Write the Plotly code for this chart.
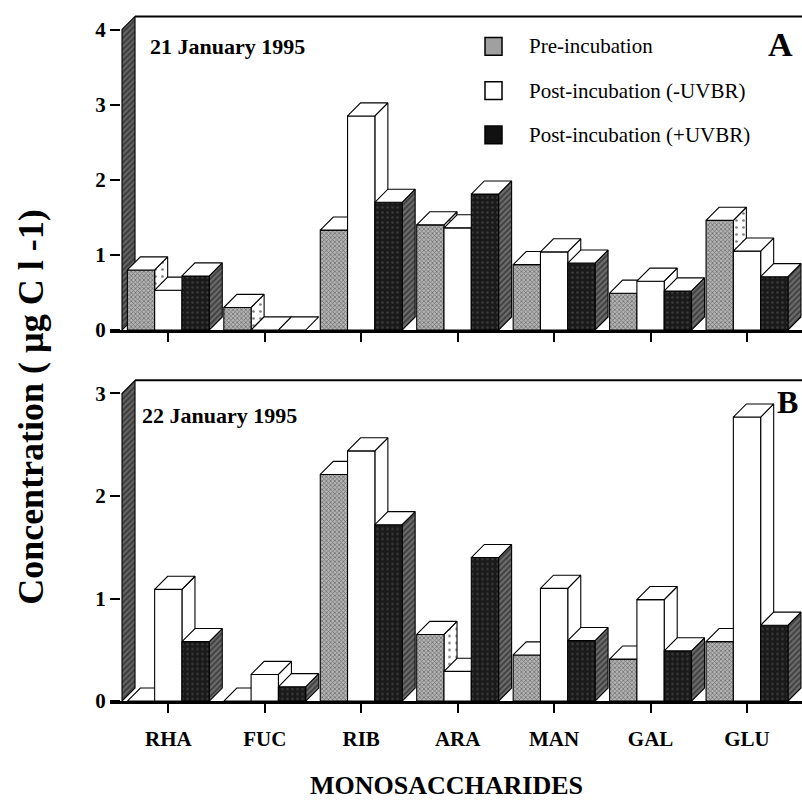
import plotly.graph_objects as go

# ---------------- data ----------------
categories = ["RHA", "FUC", "RIB", "ARA", "MAN", "GAL", "GLU"]
series_names = ["Pre-incubation", "Post-incubation (-UVBR)", "Post-incubation (+UVBR)"]

jan21_pre = [0.80, 0.30, 1.33, 1.40, 0.87, 0.49, 1.46]
jan21_post_minus = [0.53, 0.0, 2.85, 1.36, 1.04, 0.65, 1.05]
jan21_post_plus = [0.72, 0.0, 1.70, 1.81, 0.89, 0.52, 0.71]

jan22_pre = [0.0, 0.0, 2.21, 0.65, 0.45, 0.41, 0.58]
jan22_post_minus = [1.09, 0.26, 2.44, 0.29, 1.10, 0.99, 2.77]
jan22_post_plus = [0.58, 0.14, 1.72, 1.40, 0.59, 0.49, 0.74]

yticks_A = [0, 1, 2, 3, 4]
yticks_B = [0, 1, 2, 3]
panel_titles = ["21 January 1995", "22 January 1995"]
panel_letters = ["A", "B"]

# ---------------- geometry (pixels of the 802x808 page) ----------------
W, H = 802, 808
CAT_PX0, CAT_STEP = 168.3, 96.45
X_LEFT_PX = 110
BAR_W = 0.283
DEPTH_X = 0.135
DEPTH_PX_Y = 13.3

panels = [
    dict(base=335.0, unit=76.25, top_px=0.0, ymax=yticks_A[-1],
         data=[jan21_pre, jan21_post_minus, jan21_post_plus], ticks=yticks_A),
    dict(base=711.7, unit=104.1, top_px=372.0, ymax=yticks_B[-1],
         data=[jan22_pre, jan22_post_minus, jan22_post_plus], ticks=yticks_B),
]

x_lo = (X_LEFT_PX - CAT_PX0) / CAT_STEP
x_hi = (W - CAT_PX0) / CAT_STEP
WALL_X = (122 - CAT_PX0) / CAT_STEP

FONT = "Liberation Serif, Times New Roman, serif"

# face styles per series: (front, side)
pat_pre_front = dict(shape="x", size=3, solidity=0.45, fgcolor="#2a2a2a", bgcolor="#b4b4b4")
pat_pre_side = dict(shape=".", size=7, solidity=0.12, fgcolor="#000000", bgcolor="#ffffff")
pat_plus_front = dict(shape=".", size=5, solidity=0.2, fgcolor="#5a5a5a", bgcolor="#1a1a1a")
pat_dark_side = dict(shape="/", size=4, solidity=0.5, fgcolor="#111111", bgcolor="#6e6e6e")

styles = [
    (dict(fillpattern=pat_pre_front), dict(fillpattern=pat_pre_side)),
    (dict(fillcolor="#ffffff"), dict(fillcolor="#ffffff")),
    (dict(fillpattern=pat_plus_front), dict(fillpattern=pat_dark_side)),
]

fig = go.Figure()


def poly(xs, ys, xa, ya, **style):
    fig.add_trace(go.Scatter(
        x=list(xs) + [xs[0]], y=list(ys) + [ys[0]], xaxis=xa, yaxis=ya,
        mode="lines", fill="toself", line=dict(color="black", width=1.1),
        hoverinfo="skip", showlegend=False, **style))


for p, pan in enumerate(panels):
    xa = "x" if p == 0 else "x2"
    ya = "y" if p == 0 else "y2"
    dy = DEPTH_PX_Y / pan["unit"]
    top = pan["ymax"]
    # left 3-D wall
    poly([WALL_X, WALL_X + DEPTH_X, WALL_X + DEPTH_X, WALL_X],
         [0, dy, top + dy, top], xa, ya,
         fillpattern=dict(shape="/", size=4, solidity=0.5, fgcolor="#111111", bgcolor="#666666"))
    # 3-D bars, painted left to right
    for i in range(len(categories)):
        for k in range(3):
            h = pan["data"][k][i]
            x0 = i - 1.5 * BAR_W + k * BAR_W
            x1 = x0 + BAR_W
            front_st, side_st = styles[k]
            if h > 0:
                poly([x1, x1 + DEPTH_X, x1 + DEPTH_X, x1], [0, dy, h + dy, h], xa, ya, **side_st)
                poly([x0, x1, x1, x0], [0, 0, h, h], xa, ya, **front_st)
            poly([x0, x1, x1 + DEPTH_X, x0 + DEPTH_X], [h, h, h + dy, h + dy], xa, ya,
                 fillcolor="#ffffff")
    # top border line of the back plane
    fig.add_shape(type="line", xref=xa, yref=ya, x0=WALL_X + DEPTH_X, x1=x_hi,
                  y0=top + dy, y1=top + dy, line=dict(color="black", width=2))

# ---------------- axes ----------------
axis_common = dict(showgrid=False, zeroline=False)
for p, pan in enumerate(panels):
    dom = [1 - pan["base"] / H, 1 - pan["top_px"] / H]
    yr = [0, (pan["base"] - pan["top_px"]) / pan["unit"]]
    ykey = "yaxis" if p == 0 else "yaxis2"
    xkey = "xaxis" if p == 0 else "xaxis2"
    fig.update_layout(**{
        ykey: dict(domain=dom, range=yr, anchor="free", position=120 / W,
                   tickvals=pan["ticks"], ticktext=[str(t) for t in pan["ticks"]],
                   ticks="outside", ticklen=10, tickwidth=2, tickcolor="black",
                   showline=False,
                   tickfont=dict(family=FONT, size=21, color="black", weight="bold"),
                   **axis_common),
        xkey: dict(domain=[X_LEFT_PX / W, 1], range=[x_lo, x_hi],
                   anchor="y" if p == 0 else "y2",
                   tickvals=list(range(len(categories))), ticktext=categories,
                   showticklabels=(p == 1),
                   ticks="outside", ticklen=9, tickwidth=2, tickcolor="black",
                   showline=True, linewidth=2.5, linecolor="black",
                   tickfont=dict(family=FONT, size=21, color="black", weight="bold"),
                   ticklabelstandoff=8,
                   **axis_common),
    })

# ---------------- texts ----------------
ann = []
ann.append(dict(text=panel_titles[0], x=148 / W, y=1 - 47 / H))
ann.append(dict(text=panel_titles[1], x=140 / W, y=1 - 422 / H))
for a in ann:
    a.update(xref="paper", yref="paper", xanchor="left", yanchor="middle", showarrow=False,
             font=dict(family=FONT, size=22, color="black", weight="bold"))
ann.append(dict(text=panel_letters[0], x=780 / W, y=1 - 45 / H, xref="paper", yref="paper",
                xanchor="center", yanchor="middle", showarrow=False,
                font=dict(family=FONT, size=34, color="black", weight="bold")))
ann.append(dict(text=panel_letters[1], x=787 / W, y=1 - 408 / H, xref="paper", yref="paper",
                xanchor="center", yanchor="middle", showarrow=False,
                font=dict(family=FONT, size=32, color="black", weight="bold")))
ann.append(dict(text="MONOSACCHARIDES", x=446 / W, y=1 - 797 / H, xref="paper", yref="paper",
                xanchor="center", yanchor="middle", showarrow=False,
                font=dict(family=FONT, size=26, color="black", weight="bold")))
ann.append(dict(text="Concentration ( \u00b5g C l -1)", x=31 / W, y=1 - 413 / H,
                xref="paper", yref="paper", textangle=-90,
                xanchor="center", yanchor="middle", showarrow=False,
                font=dict(family=FONT, size=36, color="black", weight="bold")))

# legend (manual, inside panel A)
leg_rows = [47, 92, 137]
leg_fill = ["#a0a0a0", "#ffffff", "#111111"]
for r, name in enumerate(series_names):
    yc = leg_rows[r]
    fig.add_shape(type="rect", xref="paper", yref="paper",
                  x0=485 / W, x1=502 / W, y0=1 - (yc + 9) / H, y1=1 - (yc - 9) / H,
                  fillcolor=leg_fill[r], line=dict(color="black", width=1.5))
    ann.append(dict(text=name, x=527 / W, y=1 - yc / H, xref="paper", yref="paper",
                    xanchor="left", yanchor="middle", showarrow=False,
                    font=dict(family=FONT, size=21, color="black")))

fig.update_layout(
    annotations=ann,
    width=W, height=H,
    margin=dict(l=0, r=0, t=0, b=0),
    paper_bgcolor="white", plot_bgcolor="white",
    showlegend=False,
)

fig.write_html(
    "out.html",
    config={"displayModeBar": False},
    post_script="document.body.style.margin='0';document.body.style.overflow='hidden';",
)
